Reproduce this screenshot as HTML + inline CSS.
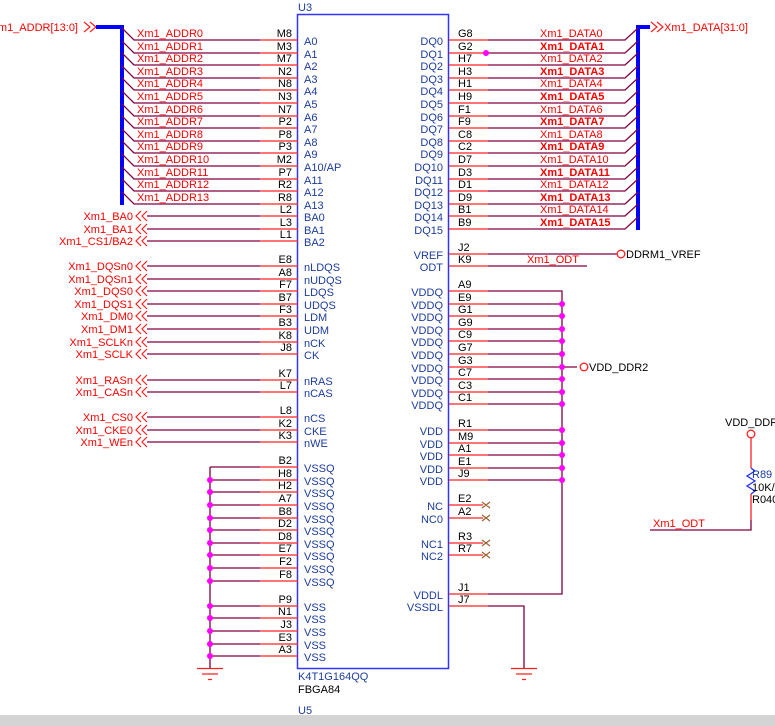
<!DOCTYPE html>
<html><head><meta charset="utf-8"><style>
html,body{margin:0;padding:0;background:#fff;width:775px;height:726px;overflow:hidden}
svg{display:block}
text{font-family:"Liberation Sans",Arial,sans-serif;font-size:11px}
.pn{fill:#000}
.nm{fill:#1c3c9c}
.nl{fill:#ff0000}
.b{font-weight:bold}
.w{stroke:#800040;stroke-width:1.3;fill:none}
.r{stroke:#ff2020;stroke-width:1.3;fill:none}
.bus{stroke:#0000ff;stroke-width:4;fill:none}
.d{fill:#ff00ff}
.ch{stroke:#ff2020;stroke-width:1.2;fill:none}
.x{stroke:#a06030;stroke-width:1.2}
</style></head><body>
<svg width="775" height="726" viewBox="0 0 775 726" xmlns="http://www.w3.org/2000/svg">
<!-- chip box -->
<rect x="297.5" y="14.5" width="151" height="654" fill="none" stroke="#3333ff" stroke-width="1.5"/>
<text x="298" y="11" class="nm">U3</text>
<text x="298" y="680" class="nm">K4T1G164QQ</text>
<text x="298" y="693" class="pn">FBGA84</text>
<text x="298" y="714" class="nm">U5</text>

<!-- address bus -->
<text x="78" y="31" class="nl" text-anchor="end">Xm1_ADDR[13:0]</text>
<path class="ch" d="M84 22 L90 27 L84 32 M90 22 L96 27 L90 32"/>
<path class="bus" d="M96 27 H122 V205"/>
<g>
<path class="w" d="M122 28 L134 40 H260 M122 41 L134 53 H260 M122 53 L134 65 H260 M122 66 L134 78 H260 M122 78 L134 90 H260 M122 91 L134 103 H260 M122 104 L134 116 H260 M122 116 L134 128 H260 M122 129 L134 141 H260 M122 141 L134 153 H260 M122 154 L134 166 H260 M122 167 L134 179 H260 M122 179 L134 191 H260 M122 192 L134 204 H260"/>
<path class="r" d="M260 40H298M260 53H298M260 65H298M260 78H298M260 90H298M260 103H298M260 116H298M260 128H298M260 141H298M260 153H298M260 166H298M260 179H298M260 191H298M260 204H298"/>
</g>
<g class="nl">
<text x="137" y="37">Xm1_ADDR0</text><text x="137" y="50">Xm1_ADDR1</text><text x="137" y="62">Xm1_ADDR2</text><text x="137" y="75">Xm1_ADDR3</text><text x="137" y="87">Xm1_ADDR4</text><text x="137" y="100">Xm1_ADDR5</text><text x="137" y="113">Xm1_ADDR6</text><text x="137" y="125">Xm1_ADDR7</text><text x="137" y="138">Xm1_ADDR8</text><text x="137" y="150">Xm1_ADDR9</text><text x="137" y="163">Xm1_ADDR10</text><text x="137" y="176">Xm1_ADDR11</text><text x="137" y="188">Xm1_ADDR12</text><text x="137" y="201">Xm1_ADDR13</text>
</g>
<g class="pn" text-anchor="end">
<text x="292" y="37">M8</text><text x="292" y="50">M3</text><text x="292" y="62">M7</text><text x="292" y="75">N2</text><text x="292" y="87">N8</text><text x="292" y="100">N3</text><text x="292" y="113">N7</text><text x="292" y="125">P2</text><text x="292" y="138">P8</text><text x="292" y="150">P3</text><text x="292" y="163">M2</text><text x="292" y="176">P7</text><text x="292" y="188">R2</text><text x="292" y="201">R8</text>
<text x="292" y="213">L2</text><text x="292" y="226">L3</text><text x="292" y="238">L1</text>
<text x="292" y="263">E8</text><text x="292" y="276">A8</text><text x="292" y="288">F7</text><text x="292" y="301">B7</text><text x="292" y="313">F3</text><text x="292" y="326">B3</text><text x="292" y="339">K8</text><text x="292" y="351">J8</text>
<text x="292" y="377">K7</text><text x="292" y="389">L7</text>
<text x="292" y="414">L8</text><text x="292" y="427">K2</text><text x="292" y="439">K3</text>
<text x="292" y="464">B2</text><text x="292" y="477">H8</text><text x="292" y="489">H2</text><text x="292" y="502">A7</text><text x="292" y="515">B8</text><text x="292" y="527">D2</text><text x="292" y="540">D8</text><text x="292" y="552">E7</text><text x="292" y="565">F2</text><text x="292" y="578">F8</text>
<text x="292" y="603">P9</text><text x="292" y="615">N1</text><text x="292" y="628">J3</text><text x="292" y="641">E3</text><text x="292" y="653">A3</text>
</g>
<g class="nm">
<text x="304" y="45">A0</text><text x="304" y="58">A1</text><text x="304" y="70">A2</text><text x="304" y="83">A3</text><text x="304" y="95">A4</text><text x="304" y="108">A5</text><text x="304" y="121">A6</text><text x="304" y="133">A7</text><text x="304" y="146">A8</text><text x="304" y="158">A9</text><text x="304" y="171">A10/AP</text><text x="304" y="184">A11</text><text x="304" y="196">A12</text><text x="304" y="209">A13</text>
<text x="304" y="221">BA0</text><text x="304" y="234">BA1</text><text x="304" y="246">BA2</text>
<text x="304" y="271">nLDQS</text><text x="304" y="284">nUDQS</text><text x="304" y="296">LDQS</text><text x="304" y="309">UDQS</text><text x="304" y="321">LDM</text><text x="304" y="334">UDM</text><text x="304" y="347">nCK</text><text x="304" y="359">CK</text>
<text x="304" y="385">nRAS</text><text x="304" y="397">nCAS</text>
<text x="304" y="422">nCS</text><text x="304" y="435">CKE</text><text x="304" y="447">nWE</text>
<text x="304" y="472">VSSQ</text><text x="304" y="485">VSSQ</text><text x="304" y="497">VSSQ</text><text x="304" y="510">VSSQ</text><text x="304" y="523">VSSQ</text><text x="304" y="535">VSSQ</text><text x="304" y="548">VSSQ</text><text x="304" y="560">VSSQ</text><text x="304" y="573">VSSQ</text><text x="304" y="586">VSSQ</text>
<text x="304" y="611">VSS</text><text x="304" y="623">VSS</text><text x="304" y="636">VSS</text><text x="304" y="649">VSS</text><text x="304" y="661">VSS</text>
</g>

<!-- left signal nets -->
<path class="w" d="M147 216H260M147 229H260M147 241H260M147 266H260M147 279H260M147 291H260M147 304H260M147 316H260M147 329H260M147 342H260M147 354H260M147 380H260M147 392H260M147 417H260M147 430H260M147 442H260"/>
<path class="r" d="M260 216H298M260 229H298M260 241H298M260 266H298M260 279H298M260 291H298M260 304H298M260 316H298M260 329H298M260 342H298M260 354H298M260 380H298M260 392H298M260 417H298M260 430H298M260 442H298"/>
<g class="ch">
<path d="M141 211L136 216L141 221M147 211L142 216L147 221"/>
<path d="M141 224L136 229L141 234M147 224L142 229L147 234"/>
<path d="M141 236L136 241L141 246M147 236L142 241L147 246"/>
<path d="M141 261L136 266L141 271M147 261L142 266L147 271"/>
<path d="M141 274L136 279L141 284M147 274L142 279L147 284"/>
<path d="M141 286L136 291L141 296M147 286L142 291L147 296"/>
<path d="M141 299L136 304L141 309M147 299L142 304L147 309"/>
<path d="M141 311L136 316L141 321M147 311L142 316L147 321"/>
<path d="M141 324L136 329L141 334M147 324L142 329L147 334"/>
<path d="M141 337L136 342L141 347M147 337L142 342L147 347"/>
<path d="M141 349L136 354L141 359M147 349L142 354L147 359"/>
<path d="M141 375L136 380L141 385M147 375L142 380L147 385"/>
<path d="M141 387L136 392L141 397M147 387L142 392L147 397"/>
<path d="M141 412L136 417L141 422M147 412L142 417L147 422"/>
<path d="M141 425L136 430L141 435M147 425L142 430L147 435"/>
<path d="M141 437L136 442L141 447M147 437L142 442L147 447"/>
</g>
<g class="nl" text-anchor="end">
<text x="133" y="220">Xm1_BA0</text><text x="133" y="233">Xm1_BA1</text><text x="133" y="245">Xm1_CS1/BA2</text>
<text x="133" y="270">Xm1_DQSn0</text><text x="133" y="283">Xm1_DQSn1</text><text x="133" y="295">Xm1_DQS0</text><text x="133" y="308">Xm1_DQS1</text><text x="133" y="320">Xm1_DM0</text><text x="133" y="333">Xm1_DM1</text><text x="133" y="346">Xm1_SCLKn</text><text x="133" y="358">Xm1_SCLK</text>
<text x="133" y="384">Xm1_RASn</text><text x="133" y="396">Xm1_CASn</text>
<text x="133" y="421">Xm1_CS0</text><text x="133" y="434">Xm1_CKE0</text><text x="133" y="446">Xm1_WEn</text>
</g>

<!-- left ground nets -->
<path class="w" d="M210 467V668M210 467H260M210 480H260M210 492H260M210 505H260M210 518H260M210 530H260M210 543H260M210 555H260M210 568H260M210 581H260M210 606H260M210 618H260M210 631H260M210 644H260M210 656H260"/>
<path class="r" d="M260 467H298M260 480H298M260 492H298M260 505H298M260 518H298M260 530H298M260 543H298M260 555H298M260 568H298M260 581H298M260 606H298M260 618H298M260 631H298M260 644H298M260 656H298"/>
<g class="d"><circle cx="210" cy="480" r="3"/><circle cx="210" cy="492" r="3"/><circle cx="210" cy="505" r="3"/><circle cx="210" cy="518" r="3"/><circle cx="210" cy="530" r="3"/><circle cx="210" cy="543" r="3"/><circle cx="210" cy="555" r="3"/><circle cx="210" cy="568" r="3"/><circle cx="210" cy="581" r="3"/><circle cx="210" cy="606" r="3"/><circle cx="210" cy="618" r="3"/><circle cx="210" cy="631" r="3"/><circle cx="210" cy="644" r="3"/><circle cx="210" cy="656" r="3"/></g>
<path class="r" d="M197 668.5H223M202 674H218M208 679.5H212"/>

<!-- data bus -->
<path class="bus" d="M638 230V27H650"/>
<path class="ch" d="M651 22L657 27L651 32M657 22L663 27L657 32"/>
<text x="664" y="31" class="nl">Xm1_DATA[31:0]</text>
<path class="r" d="M449 40H488M449 53H488M449 65H488M449 78H488M449 90H488M449 103H488M449 116H488M449 128H488M449 141H488M449 153H488M449 166H488M449 179H488M449 191H488M449 204H488M449 216H488M449 229H488"/>
<path class="w" d="M488 40H625L638 28M488 53H625L638 41M488 65H625L638 53M488 78H625L638 66M488 90H625L638 78M488 103H625L638 91M488 116H625L638 104M488 128H625L638 116M488 141H625L638 129M488 153H625L638 141M488 166H625L638 154M488 179H625L638 167M488 191H625L638 179M488 204H625L638 192M488 216H625L638 204M488 229H625L638 217"/>
<circle cx="486" cy="53" r="3" class="d"/>
<g class="nl">
<text x="540" y="37">Xm1_DATA0</text><text x="540" y="50" class="b">Xm1_DATA1</text><text x="540" y="62">Xm1_DATA2</text><text x="540" y="75" class="b">Xm1_DATA3</text><text x="540" y="87">Xm1_DATA4</text><text x="540" y="100" class="b">Xm1_DATA5</text><text x="540" y="113">Xm1_DATA6</text><text x="540" y="125" class="b">Xm1_DATA7</text><text x="540" y="138">Xm1_DATA8</text><text x="540" y="150" class="b">Xm1_DATA9</text><text x="540" y="163">Xm1_DATA10</text><text x="540" y="176" class="b">Xm1_DATA11</text><text x="540" y="188">Xm1_DATA12</text><text x="540" y="201" class="b">Xm1_DATA13</text><text x="540" y="213">Xm1_DATA14</text><text x="540" y="226" class="b">Xm1_DATA15</text>
</g>
<g class="pn">
<text x="458" y="37">G8</text><text x="458" y="50">G2</text><text x="458" y="62">H7</text><text x="458" y="75">H3</text><text x="458" y="87">H1</text><text x="458" y="100">H9</text><text x="458" y="113">F1</text><text x="458" y="125">F9</text><text x="458" y="138">C8</text><text x="458" y="150">C2</text><text x="458" y="163">D7</text><text x="458" y="176">D3</text><text x="458" y="188">D1</text><text x="458" y="201">D9</text><text x="458" y="213">B1</text><text x="458" y="226">B9</text>
<text x="458" y="251">J2</text><text x="458" y="263">K9</text>
<text x="458" y="288">A9</text><text x="458" y="301">E9</text><text x="458" y="313">G1</text><text x="458" y="326">G9</text><text x="458" y="338">C9</text><text x="458" y="351">G7</text><text x="458" y="364">G3</text><text x="458" y="376">C7</text><text x="458" y="389">C3</text><text x="458" y="401">C1</text>
<text x="458" y="427">R1</text><text x="458" y="440">M9</text><text x="458" y="452">A1</text><text x="458" y="465">E1</text><text x="458" y="477">J9</text>
<text x="458" y="502">E2</text><text x="458" y="515">A2</text><text x="458" y="540">R3</text><text x="458" y="552">R7</text>
<text x="458" y="591">J1</text><text x="458" y="603">J7</text>
</g>
<g class="nm" text-anchor="end">
<text x="443" y="45">DQ0</text><text x="443" y="58">DQ1</text><text x="443" y="70">DQ2</text><text x="443" y="83">DQ3</text><text x="443" y="95">DQ4</text><text x="443" y="108">DQ5</text><text x="443" y="121">DQ6</text><text x="443" y="133">DQ7</text><text x="443" y="146">DQ8</text><text x="443" y="158">DQ9</text><text x="443" y="171">DQ10</text><text x="443" y="184">DQ11</text><text x="443" y="196">DQ12</text><text x="443" y="209">DQ13</text><text x="443" y="221">DQ14</text><text x="443" y="234">DQ15</text>
<text x="443" y="259">VREF</text><text x="443" y="271">ODT</text>
<text x="443" y="296">VDDQ</text><text x="443" y="309">VDDQ</text><text x="443" y="321">VDDQ</text><text x="443" y="334">VDDQ</text><text x="443" y="346">VDDQ</text><text x="443" y="359">VDDQ</text><text x="443" y="372">VDDQ</text><text x="443" y="384">VDDQ</text><text x="443" y="397">VDDQ</text><text x="443" y="409">VDDQ</text>
<text x="443" y="435">VDD</text><text x="443" y="448">VDD</text><text x="443" y="460">VDD</text><text x="443" y="473">VDD</text><text x="443" y="485">VDD</text>
<text x="443" y="510">NC</text><text x="443" y="523">NC0</text><text x="443" y="548">NC1</text><text x="443" y="560">NC2</text>
<text x="443" y="599">VDDL</text><text x="443" y="611">VSSDL</text>
</g>

<!-- right power nets -->
<path class="r" d="M449 254H488M449 266H488M449 291H488M449 304H488M449 316H488M449 329H488M449 341H488M449 354H488M449 367H488M449 379H488M449 392H488M449 404H488M449 430H488M449 443H488M449 455H488M449 468H488M449 480H488M449 505H483M449 518H483M449 543H483M449 555H483M449 594H488M449 606H488"/>
<path class="w" d="M488 254H617M488 266H587M488 291H562V594H488M488 304H562M488 316H562M488 329H562M488 341H562M488 354H562M488 367H577M488 379H562M488 392H562M488 404H562M488 430H562M488 443H562M488 455H562M488 468H562M488 480H562M488 606H524V668"/>
<circle cx="621" cy="254" r="3.8" fill="#fff" stroke="#ff2020" stroke-width="1.3"/>
<text x="626" y="258" class="pn">DDRM1_VREF</text>
<text x="527" y="263" class="nl">Xm1_ODT</text>
<circle cx="584" cy="367" r="3.8" fill="#fff" stroke="#ff2020" stroke-width="1.3"/>
<text x="589" y="371" class="pn">VDD_DDR2</text>
<g class="d"><circle cx="562" cy="304" r="3"/><circle cx="562" cy="316" r="3"/><circle cx="562" cy="329" r="3"/><circle cx="562" cy="341" r="3"/><circle cx="562" cy="354" r="3"/><circle cx="562" cy="367" r="3"/><circle cx="562" cy="379" r="3"/><circle cx="562" cy="392" r="3"/><circle cx="562" cy="404" r="3"/><circle cx="562" cy="430" r="3"/><circle cx="562" cy="443" r="3"/><circle cx="562" cy="455" r="3"/><circle cx="562" cy="468" r="3"/><circle cx="562" cy="480" r="3"/></g>
<path class="x" d="M482 502L490 508M490 502L482 508M482 515L490 521M490 515L482 521M482 540L490 546M490 540L482 546M482 552L490 558M490 552L482 558"/>
<path class="r" d="M511 668.5H537M516 674H532M522 679.5H526"/>

<!-- resistor -->
<text x="725" y="426" class="pn">VDD_DDR2</text>
<circle cx="751" cy="434" r="3.8" fill="#fff" stroke="#ff2020" stroke-width="1.3"/>
<path class="r" d="M751 438V468M751 494V520"/>
<path d="M751 468L755 471L747 476L755 481L747 486L755 491L751 494" stroke="#2030ff" stroke-width="1.3" fill="none"/>
<text x="752" y="478" class="nm">R89</text>
<text x="752" y="491" class="pn">10K/</text>
<text x="752" y="503" class="pn">R0402</text>
<path class="w" d="M650 530H751V520"/>
<text x="653" y="527" class="nl">Xm1_ODT</text>

<rect x="0" y="715" width="775" height="11" fill="#d4d4d4"/>
</svg>
</body></html>
